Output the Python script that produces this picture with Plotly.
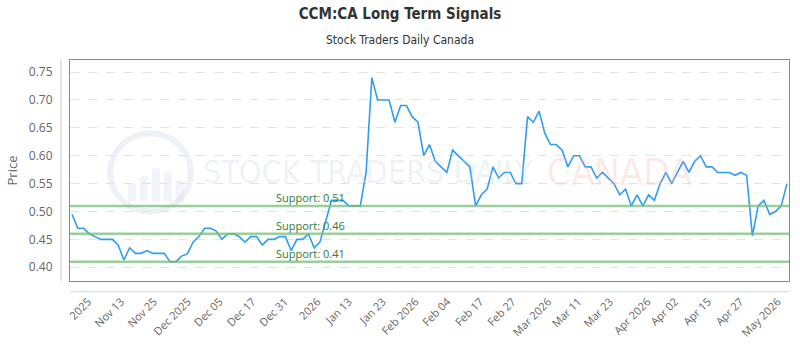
import plotly.graph_objects as go

# ---- data ----
prices = [
    0.495, 0.47, 0.47, 0.46, 0.455, 0.45, 0.45, 0.45, 0.44, 0.413,
    0.435, 0.425, 0.425, 0.43, 0.425, 0.425, 0.425, 0.41, 0.41, 0.42,
    0.424, 0.445, 0.455, 0.47, 0.47, 0.465, 0.45, 0.46, 0.46, 0.455,
    0.445, 0.455, 0.455, 0.44, 0.45, 0.45, 0.455, 0.455, 0.43, 0.45,
    0.45, 0.46, 0.435, 0.445, 0.483, 0.52, 0.52, 0.52, 0.51, 0.51,
    0.51, 0.57, 0.74, 0.70, 0.70, 0.70, 0.66, 0.69, 0.69, 0.67,
    0.66, 0.60, 0.62, 0.59, 0.58, 0.57, 0.61, 0.60, 0.59, 0.58,
    0.51, 0.53, 0.54, 0.58, 0.56, 0.57, 0.57, 0.55, 0.55, 0.67,
    0.66, 0.68, 0.64, 0.62, 0.62, 0.61, 0.58, 0.60, 0.60, 0.58,
    0.58, 0.56, 0.57, 0.56, 0.55, 0.53, 0.54, 0.51, 0.53, 0.51,
    0.53, 0.52, 0.55, 0.57, 0.55, 0.57, 0.59, 0.57, 0.59, 0.60,
    0.58, 0.58, 0.57, 0.57, 0.57, 0.565, 0.57, 0.565, 0.456, 0.51,
    0.52, 0.495, 0.50, 0.51, 0.55,
]
tick_labels = [
    "2025", "Nov 13", "Nov 25", "Dec 2025", "Dec 05", "Dec 17", "Dec 31",
    "2026", "Jan 13", "Jan 23", "Feb 2026", "Feb 04", "Feb 17", "Feb 27",
    "Mar 2026", "Mar 11", "Mar 23", "Apr 2026", "Apr 02", "Apr 15",
    "Apr 27", "May 2026",
]
tick_positions = [
    2.8, 8.5, 14.2, 20.1, 25.6, 31.3, 36.9, 42.6, 48.0, 53.9, 59.6,
    65.1, 70.8, 76.4, 82.6, 87.8, 93.3, 99.8, 104.6, 110.3, 115.9, 122.4,
]
support_levels = [0.51, 0.46, 0.41]
support_labels = ["Support: 0.51", "Support: 0.46", "Support: 0.41"]

x_idx = list(range(len(prices)))

fig = go.Figure()
fig.add_trace(go.Scatter(
    x=x_idx, y=prices, mode="lines",
    line=dict(color="#2f9ef0", width=1.6),
    hoverinfo="y", showlegend=False,
))

# support lines
for lvl, lab in zip(support_levels, support_labels):
    fig.add_shape(type="line", xref="paper", x0=0, x1=1, yref="y", y0=lvl, y1=lvl,
                  line=dict(color="rgba(120,190,120,0.75)", width=2.5), layer="above")
    fig.add_annotation(x=35.0, y=lvl, xref="x", yref="y", text=lab, showarrow=False,
                       xanchor="left", yanchor="bottom", yshift=-1,
                       font=dict(family="Open Sans, Noto Sans, sans-serif", size=11, color="#2e7d32"))

# watermark
WM = "DejaVu Sans Condensed, Liberation Sans Narrow, Roboto"
fig.add_shape(type="circle", xref="paper", yref="paper",
              x0=(110 - 70) / 720, x1=(191 - 70) / 720,
              y0=(286 - 215) / 226, y1=(286 - 135) / 226,
              line=dict(color="rgba(205,215,232,0.35)", width=6), layer="below")
for bx, bh in [(128, 18), (140, 26), (152, 34), (164, 30), (176, 22)]:
    fig.add_shape(type="rect", xref="paper", yref="paper",
                  x0=(bx - 70) / 720, x1=(bx + 8 - 70) / 720,
                  y0=(286 - 205) / 226, y1=(286 - 205 + bh) / 226,
                  line=dict(width=0), fillcolor="rgba(205,215,232,0.28)", layer="below")
fig.add_annotation(xref="paper", yref="paper", x=(201 - 70) / 720, y=(286 - 175) / 226,
                   text="STOCK TRADERS DAILY", showarrow=False, xanchor="left", yanchor="middle",
                   font=dict(family=WM, size=32, color="rgba(200,210,228,0.3)"))
fig.add_annotation(xref="paper", yref="paper", x=(546 - 70) / 720, y=(286 - 175) / 226,
                   text="CANADA", showarrow=False, xanchor="left", yanchor="middle",
                   font=dict(family=WM, size=38, color="rgba(250,180,180,0.28)"))

# offset axis lines (Highcharts style)
fig.add_shape(type="line", xref="paper", yref="paper", x0=0, x1=1,
              y0=-11 / 226, y1=-11 / 226, line=dict(color="#ccd6eb", width=1))
fig.add_shape(type="line", xref="paper", yref="paper", x0=-9 / 720, x1=-9 / 720,
              y0=0, y1=1, line=dict(color="#cccccc", width=1))

fig.update_layout(
    width=800, height=350,
    margin=dict(l=70, r=10, t=60, b=64),
    paper_bgcolor="white", plot_bgcolor="white",
    title=dict(text="<b>CCM:CA Long Term Signals</b>", x=0.5, xanchor="center",
               y=1 - 14 / 350, yanchor="middle",
               font=dict(family="DejaVu Sans Condensed, Roboto", size=15, color="#333333")),
    font=dict(family="Open Sans, Noto Sans, sans-serif", color="#666666"),
    showlegend=False,
)
fig.add_annotation(xref="paper", yref="paper", x=(400 - 70) / 720, y=(286 - 40) / 226,
                   text="Stock Traders Daily Canada", showarrow=False, xanchor="center", yanchor="middle",
                   font=dict(family="DejaVu Sans Condensed, Roboto", size=12, color="#333333"))

fig.update_xaxes(
    range=[-0.35, 124.35],
    tickmode="array", tickvals=tick_positions, ticktext=tick_labels,
    tickangle=-45, tickfont=dict(size=11, color="#666666"),
    showgrid=False, zeroline=False,
    showline=True, linecolor="#888888", linewidth=1, mirror=True,
    ticks="", ticklabelstandoff=9,
)
fig.update_yaxes(
    range=[0.3754, 0.7716],
    tickmode="array", tickvals=[0.40, 0.45, 0.50, 0.55, 0.60, 0.65, 0.70, 0.75],
    tickformat=".2f", tickfont=dict(size=12, color="#666666"),
    showgrid=True, gridcolor="#e3e3e3", griddash="dash", gridwidth=1,
    zeroline=False,
    showline=True, linecolor="#888888", linewidth=1, mirror=True,
    ticks="", ticklabelstandoff=14,
    title=dict(text="Price", font=dict(size=13, color="#666666"), standoff=8),
)

fig.write_html("out.html")
